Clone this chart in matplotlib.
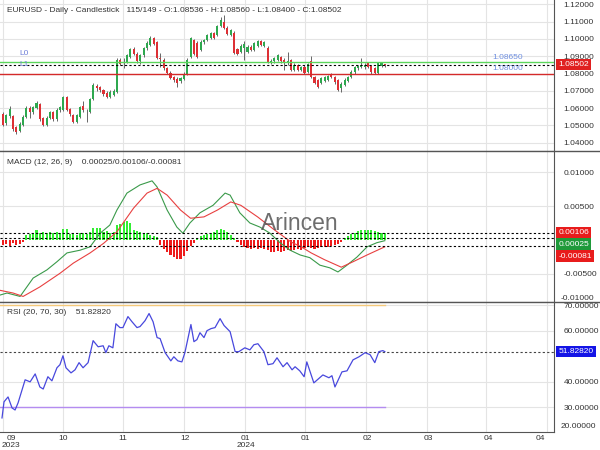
import numpy as np
import matplotlib.pyplot as plt
from matplotlib.lines import Line2D

plt.rcParams['font.family'] = ['Liberation Sans', 'DejaVu Sans']

# ---- candle data ----
opens = [1.0566, 1.0514, 1.0555, 1.0555, 1.0490, 1.0467, 1.0505, 1.0550, 1.0600, 1.0575,
         1.0600, 1.0625, 1.0540, 1.0505, 1.0545, 1.0575, 1.0535, 1.0590, 1.0590, 1.0665,
         1.0595, 1.0560, 1.0520, 1.0550, 1.0615, 1.0580, 1.0580, 1.0650, 1.0730, 1.0720,
         1.0705, 1.0690, 1.0665, 1.0675, 1.0693, 1.0880, 1.0860, 1.0865, 1.0895, 1.0940,
         1.0915, 1.0870, 1.0905, 1.0945, 1.0965, 1.1005, 1.0980, 1.0890, 1.0880, 1.0830,
         1.0805, 1.0780, 1.0770, 1.0755, 1.0770, 1.0795, 1.0895, 1.0995, 1.0975, 1.0936,
         1.0980, 1.0994, 1.1005, 1.1035, 1.1025, 1.1075, 1.1100, 1.1065, 1.1025, 1.1035,
         1.0940, 1.0925, 1.0950, 1.0925, 1.0955, 1.0935, 1.0960, 1.0985, 1.0960, 1.0950,
         1.0865, 1.0870, 1.0880, 1.0895, 1.0880, 1.0860, 1.0878, 1.0820, 1.0849, 1.0820,
         1.0840, 1.0810, 1.0870, 1.0780, 1.0760, 1.0745, 1.0755, 1.0765, 1.0795, 1.0780,
         1.0760, 1.0715, 1.0735, 1.0755, 1.0780, 1.0808, 1.0830, 1.0840, 1.0835, 1.0860,
         1.0845, 1.0830, 1.0805, 1.0845, 1.08536]
highs = [1.0575, 1.0568, 1.0612, 1.0562, 1.0498, 1.0518, 1.0558, 1.0610, 1.0612, 1.0615,
         1.0640, 1.0632, 1.0548, 1.0552, 1.0585, 1.0582, 1.0598, 1.0615, 1.0672, 1.0670,
         1.0600, 1.0565, 1.0568, 1.0612, 1.0640, 1.0595, 1.0658, 1.0745, 1.0738, 1.0728,
         1.0712, 1.0698, 1.0702, 1.0708, 1.0888, 1.0890, 1.0890, 1.0912, 1.0950, 1.0955,
         1.0922, 1.0912, 1.0952, 1.0985, 1.1015, 1.1012, 1.0988, 1.0920, 1.0888, 1.0838,
         1.0812, 1.0788, 1.0778, 1.0782, 1.0808, 1.0888, 1.1012, 1.1002, 1.0985, 1.0992,
         1.1002, 1.1030, 1.1042, 1.1042, 1.1082, 1.1125, 1.1138, 1.1072, 1.1058, 1.1045,
         1.0948, 1.0968, 1.0985, 1.0962, 1.0962, 1.0982, 1.0992, 1.0992, 1.0988, 1.0958,
         1.0885, 1.0898, 1.0912, 1.0902, 1.0888, 1.0924, 1.0885, 1.0858, 1.0856, 1.0842,
         1.0848, 1.0862, 1.0900, 1.0788, 1.0768, 1.0780, 1.0788, 1.0792, 1.0802, 1.0788,
         1.0768, 1.0748, 1.0772, 1.0788, 1.0818, 1.0842, 1.0852, 1.0890, 1.0858, 1.0868,
         1.0852, 1.0838, 1.0868, 1.0868, 1.08560]
lows = [1.0495, 1.0505, 1.0540, 1.0470, 1.0452, 1.0460, 1.0498, 1.0542, 1.0545, 1.0565,
        1.0592, 1.0528, 1.0498, 1.0498, 1.0538, 1.0525, 1.0528, 1.0580, 1.0585, 1.0582,
        1.0555, 1.0512, 1.0515, 1.0545, 1.0580, 1.0520, 1.0572, 1.0645, 1.0700, 1.0695,
        1.0670, 1.0658, 1.0660, 1.0668, 1.0690, 1.0848, 1.0830, 1.0858, 1.0890, 1.0908,
        1.0862, 1.0855, 1.0898, 1.0938, 1.0958, 1.0962, 1.0882, 1.0840, 1.0822, 1.0798,
        1.0768, 1.0750, 1.0722, 1.0745, 1.0762, 1.0790, 1.0888, 1.0905, 1.0888, 1.0928,
        1.0972, 1.0988, 1.0998, 1.1000, 1.1018, 1.1068, 1.1058, 1.1022, 1.1018, 1.0910,
        1.0905, 1.0918, 1.0880, 1.0918, 1.0928, 1.0928, 1.0952, 1.0958, 1.0952, 1.0858,
        1.0855, 1.0862, 1.0872, 1.0862, 1.0820, 1.0850, 1.0812, 1.0812, 1.0812, 1.0812,
        1.0798, 1.0802, 1.0772, 1.0738, 1.0715, 1.0738, 1.0748, 1.0758, 1.0772, 1.0742,
        1.0698, 1.0695, 1.0728, 1.0748, 1.0772, 1.0800, 1.0822, 1.0832, 1.0828, 1.0832,
        1.0800, 1.0798, 1.0798, 1.0838, 1.08400]
closes = [1.0502, 1.0560, 1.0595, 1.0480, 1.0462, 1.0510, 1.0550, 1.0600, 1.0580, 1.0605,
          1.0628, 1.0535, 1.0505, 1.0545, 1.0575, 1.0535, 1.0590, 1.0605, 1.0665, 1.0590,
          1.0565, 1.0520, 1.0560, 1.0605, 1.0590, 1.0575, 1.0650, 1.0735, 1.0718, 1.0705,
          1.0680, 1.0665, 1.0695, 1.0700, 1.0878, 1.0855, 1.0865, 1.0905, 1.0940, 1.0915,
          1.0870, 1.0905, 1.0945, 1.0975, 1.1005, 1.0970, 1.0890, 1.0885, 1.0830, 1.0805,
          1.0775, 1.0760, 1.0745, 1.0775, 1.0800, 1.0880, 1.1005, 1.0915, 1.0895, 1.0984,
          1.0995, 1.1023, 1.1035, 1.1008, 1.1075, 1.1110, 1.1065, 1.1030, 1.1050, 1.0920,
          1.0915, 1.0960, 1.0970, 1.0955, 1.0935, 1.0975, 1.0985, 1.0965, 1.0980, 1.0865,
          1.0875, 1.0890, 1.0905, 1.0870, 1.0860, 1.0870, 1.0820, 1.0849, 1.0820, 1.0835,
          1.0805, 1.0855, 1.0780, 1.0745, 1.0722, 1.0773, 1.0780, 1.0785, 1.0780, 1.0750,
          1.0705, 1.0740, 1.0765, 1.0780, 1.0810, 1.0835, 1.0845, 1.0850, 1.0850, 1.0840,
          1.0808, 1.0805, 1.0860, 1.0860, 1.08502]

# ---- MACD (12, 26, 9), sampled at bar positions ----
macd_idx = [-0.9, 1.2, 5.1, 9.0, 13.1, 16.1, 19.1, 23.0, 26.0, 29.0, 31.9, 34.0, 37.0, 40.9,
            44.5, 46.0, 49.0, 51.9, 53.7, 55.8, 58.8, 62.7, 66.3, 67.8, 70.7, 73.7, 76.7,
            79.7, 82.7, 85.7, 88.7, 91.6, 94.6, 97.6, 100.0, 102.7, 105.7, 108.7, 111.6, 114.0]
macd_val = [-0.0081, -0.0078, -0.0083, -0.0056, -0.0044, -0.0032, -0.0019, -0.0015, -0.0010,
            0.0010, 0.0022, 0.0044, 0.0069, 0.0081, 0.0087, 0.0078, 0.0044, 0.0019, 0.0010,
            0.0025, 0.0040, 0.0051, 0.0069, 0.0066, 0.0040, 0.0025, 0.0019, 0.0010, -0.0004,
            -0.0015, -0.0022, -0.0026, -0.0037, -0.0041, -0.0047, -0.0037, -0.0025, -0.0010,
            -0.0004, -0.0001]
signal_idx = [-0.9, 3.0, 6.0, 11.0, 17.0, 21.0, 26.0, 30.0, 34.0, 39.0, 43.0, 46.0, 49.0, 53.0,
              56.0, 60.0, 64.0, 68.0, 71.0, 76.0, 81.0, 86.0, 89.0, 92.0, 96.0, 101.0, 104.5,
              108.7, 114.0]
signal_val = [-0.0074, -0.0078, -0.0083, -0.0069, -0.0049, -0.0034, -0.0019, -0.0005, 0.0012,
              0.0047, 0.0069, 0.0076, 0.0066, 0.0044, 0.0032, 0.0034, 0.0044, 0.0056, 0.0051,
              0.0034, 0.0015, -0.0003, -0.0010, -0.0019, -0.0029, -0.0040, -0.0032, -0.0022,
              -0.0010]
hist = [-0.0008, -0.0006, -0.0009, -0.0005, -0.0008, -0.0006, -0.0003, 0.0007, 0.0009, 0.0011,
        0.0014, 0.0011, 0.0012, 0.0010, 0.0012, 0.0011, 0.0012, 0.0010, 0.0016, 0.0016,
        0.0009, 0.0011, 0.0008, 0.0010, 0.0011, 0.0009, 0.0012, 0.0017, 0.0018, 0.0017,
        0.0012, 0.0013, 0.0011, 0.0012, 0.0022, 0.0024, 0.0026, 0.0028, 0.0025, 0.0014,
        0.0013, 0.0012, 0.0010, 0.0010, 0.0008, 0.0006, 0.0004, -0.0008, -0.0013, -0.0017,
        -0.0022, -0.0025, -0.0028, -0.0028, -0.0024, -0.0016, -0.0009, -0.0004, 0.0003, 0.0006,
        0.0008, 0.0009, 0.0011, 0.0012, 0.0014, 0.0016, 0.0015, 0.0012, 0.0008, 0.0003,
        -0.0003, -0.0007, -0.0010, -0.0012, -0.0013, -0.0012, -0.0013, -0.0012, -0.0013, -0.0015,
        -0.0017, -0.0018, -0.0016, -0.0017, -0.0016, -0.0015, -0.0016, -0.0014, -0.0013, -0.0014,
        -0.0012, -0.0011, -0.0012, -0.0013, -0.0012, -0.0011, -0.0010, -0.0011, -0.0009, -0.0008,
        -0.0006, -0.0003, 0.0003, 0.0006, 0.0009, 0.0011, 0.0013, 0.0014, 0.0015, 0.0015,
        0.0014, 0.0013, 0.0012, 0.0011, 0.0010]

# ---- RSI (20, 70, 30) ----
rsi_idx = [-0.3, 0.3, 1.5, 2.7, 3.6, 4.5, 6.6, 8.1, 9.6, 11.0, 12.0, 13.4, 14.6, 16.1, 17.0,
           17.9, 18.8, 20.3, 21.5, 22.7, 23.9, 25.4, 26.9, 28.4, 29.9, 30.7, 31.6, 32.8, 33.7,
           34.9, 35.8, 37.3, 38.5, 40.0, 40.9, 42.4, 43.6, 44.8, 46.0, 46.9, 48.4, 50.1, 51.0,
           52.2, 53.4, 54.3, 56.1, 57.0, 57.9, 58.8, 60.0, 60.9, 62.1, 63.3, 64.8, 66.0, 67.8,
           69.3, 70.4, 72.2, 73.7, 74.9, 76.1, 77.9, 79.1, 80.6, 81.8, 83.6, 84.8, 86.3, 87.2,
           88.6, 89.9, 90.7, 92.8, 95.5, 97.3, 98.2, 99.1, 101.2, 102.7, 104.5, 106.3, 108.1,
           109.6, 111.0, 112.2, 113.4, 114.0]
rsi_val = [25.9, 32.2, 34.1, 29.8, 29.0, 31.8, 40.8, 40.0, 43.1, 38.0, 37.2, 42.0, 40.4, 45.5,
           46.7, 50.2, 45.5, 43.5, 44.7, 47.5, 45.5, 47.5, 56.1, 53.7, 54.1, 51.4, 54.1, 53.3,
           62.7, 61.2, 61.2, 65.5, 63.5, 61.2, 61.6, 63.9, 66.7, 63.5, 57.3, 56.9, 51.4, 48.2,
           49.8, 48.2, 47.8, 51.4, 62.4, 55.7, 56.5, 59.2, 57.3, 60.0, 60.8, 61.2, 64.7, 62.0,
           59.6, 51.8, 51.8, 53.3, 52.5, 54.5, 54.9, 51.8, 46.7, 47.1, 49.4, 45.9, 47.5, 44.7,
           45.9, 44.3, 42.0, 47.8, 39.6, 42.7, 41.6, 42.4, 38.0, 43.9, 44.3, 48.6, 49.8, 51.4,
           50.6, 47.5, 51.8, 52.2, 51.8]

tick_pos = [2.5, 17.9, 35.8, 54.3, 72.5, 90.4, 108.7, 126.9, 144.8, 160.3]
tick_labels = ['09\n2023', '10', '11', '12', '01\n2024', '01', '02', '03', '04', '04']
grid_pos = [0, 17.9, 35.8, 54.0, 72.2, 90.1, 108.4, 126.6, 144.2, 162.4]

level_hi, level_lo, last_close = 1.0865, 1.0800, 1.08502
macd_last, signal_last, hist_last = 0.00025, 0.00106, -0.00081
rsi_last = 51.82820

GREEN, RED = '#2ea84f', '#dd3035'
TXT = '#333333'
FS = 6

fig = plt.figure(figsize=(6, 4.5), dpi=100)
W = 554 / 600
ax1 = fig.add_axes([0, 1 - 151 / 450, W, 151 / 450])
ax2 = fig.add_axes([0, 1 - 302 / 450, W, 151 / 450])
ax3 = fig.add_axes([0, 1 - 432 / 450, W, 130 / 450])

for ax in (ax1, ax2, ax3):
    ax.set_xlim(-0.9, 164.5)
    ax.yaxis.tick_right()
    ax.tick_params(axis='y', length=0, pad=7, labelsize=FS, labelcolor=TXT)
    ax.spines['top'].set_visible(False)
    ax.spines['left'].set_visible(False)
    ax.spines['right'].set_color('#555555')
    ax.spines['bottom'].set_color('#555555')
    ax.grid(axis='y', color='#e4e4e4', lw=0.8)
    for g in grid_pos:
        ax.axvline(g, color='#e4e4e4', lw=0.8, zorder=0)
    ax.set_axisbelow(True)

# ---- main candlestick panel ----
idx = np.arange(len(closes))
o = np.array(opens); c = np.array(closes)
col = [GREEN if cc >= oo else RED for oo, cc in zip(o, c)]
ax1.vlines(idx, lows, highs, color='#666666', lw=0.7, zorder=2)
ax1.bar(idx, np.maximum(np.abs(c - o), 0.00015), bottom=np.minimum(o, c), width=0.62,
        color=col, zorder=3)
ax1.axhline(level_hi, color='#5cd65c', lw=1.0, zorder=4)
ax1.axhline(level_lo, color='#d42a2a', lw=1.0, zorder=4)
ax1.axhline(last_close, color='black', lw=0.8, ls=(0, (2, 2)), zorder=4)
ax1.set_ylim(1.0352, 1.12249)
ax1.set_yticks(np.arange(1.04, 1.1201, 0.01))
ax1.yaxis.set_major_formatter(plt.FormatStrFormatter('%.5f'))
ax1.set_xticks([])

ax1.text(7 / 554, 1 - 10 / 151, 'EURUSD - Daily - Candlestick   115/149 - O:1.08536 - H:1.08560 - L:1.08400 - C:1.08502',
         transform=ax1.transAxes, fontsize=FS, color=TXT, va='center')
ax1.text(5, level_hi + 0.0050, 'L0', fontsize=FS, color='#7080d8', va='center', zorder=6)
ax1.text(5, level_hi - 0.0012, 'L1', fontsize=FS, color='#7080d8', va='center', zorder=6)
ax1.text(146, level_hi + 0.0030, f'{level_hi:.5f}', fontsize=FS, color='#7090e0', va='center', zorder=6)
ax1.text(146, level_lo + 0.0028, f'{level_lo:.5f}', fontsize=FS, color='#7090e0', va='center', zorder=6)
ax1.text(1.008, last_close, f'{last_close:.5f}', transform=ax1.get_yaxis_transform(), fontsize=FS,
         color='white', va='center', bbox=dict(boxstyle='square,pad=0.25', fc='#e02020', ec='none'))

# ---- MACD panel ----
hcol = ['#33ee33' if h >= 0 else '#ee1c1c' for h in hist]
ax2.bar(idx, hist, width=0.62, color=hcol, zorder=2)
ax2.plot(macd_idx, macd_val, color='#3a9a4a', lw=0.8, zorder=3)
ax2.plot(signal_idx, signal_val, color='#e84040', lw=0.8, zorder=3)
for v in (signal_last, macd_last, hist_last):
    ax2.axhline(v, color='black', lw=0.8, ls=(0, (2, 2)), zorder=4)
ax2.set_ylim(-0.00912, 0.01309)
ax2.set_yticks([-0.005, 0.005, 0.01])
ax2.yaxis.set_major_formatter(plt.FormatStrFormatter('%.5f'))
ax2.set_xticks([])
ax2.text(7 / 554, 1 - 12 / 151, 'MACD (12, 26, 9)    0.00025/0.00106/-0.00081',
         transform=ax2.transAxes, fontsize=FS, color=TXT, va='center')
ax2.text(300 / 554, 1 - (223 - 151) / 151, 'Arincen', transform=ax2.transAxes, fontsize=16.5,
         color='#555555', alpha=0.85, ha='center', va='center', zorder=5)
ax2.text(1.012, 3 / 151, '-0.01000', transform=ax2.transAxes, fontsize=FS, color=TXT, va='center')
for lab, ypx, fc in ((signal_last, 233, '#e81c1c'), (macd_last, 244, '#1f9a3a'), (hist_last, 256, '#e81c1c')):
    ax2.text(1.008, 1 - (ypx - 151) / 151, f'{lab:.5f}', transform=ax2.transAxes, fontsize=FS,
             color='white', va='center', bbox=dict(boxstyle='square,pad=0.25', fc=fc, ec='none'))

# ---- RSI panel ----
ax3.plot(rsi_idx, rsi_val, color='#4848dd', lw=0.9, zorder=3)
ax3.plot([-0.9, 114], [70, 70], color='#f5c97a', lw=1.0, zorder=2)
ax3.plot([-0.9, 114], [30, 30], color='#b48cf0', lw=1.0, zorder=2)
ax3.axhline(rsi_last, color='#444444', lw=0.8, ls=(0, (2, 2)), zorder=2)
ax3.set_ylim(20.4, 71.2)
ax3.set_yticks([30, 40, 60, 70])
ax3.yaxis.set_major_formatter(plt.FormatStrFormatter('%.5f'))
ax3.text(1.012, 6 / 130, '20.00000', transform=ax3.transAxes, fontsize=FS, color=TXT, va='center')
ax3.text(7 / 554, 1 - 10 / 130, 'RSI (20, 70, 30)    51.82820', transform=ax3.transAxes,
         fontsize=FS, color=TXT, va='center')
ax3.text(1.008, rsi_last, f'{rsi_last:.5f}', transform=ax3.get_yaxis_transform(), fontsize=FS,
         color='white', va='center', bbox=dict(boxstyle='square,pad=0.25', fc='#1414e6', ec='none'))
ax3.set_xticks(tick_pos)
ax3.set_xticklabels(tick_labels, fontsize=FS, color=TXT, linespacing=0.95)
ax3.tick_params(axis='x', length=0, pad=2)

# panel separators running across the label column
for ypx in (151, 302):
    fig.add_artist(Line2D([0, 1], [1 - ypx / 450] * 2, color='#555555', lw=1.0))

fig.savefig('out.png', dpi=100)
